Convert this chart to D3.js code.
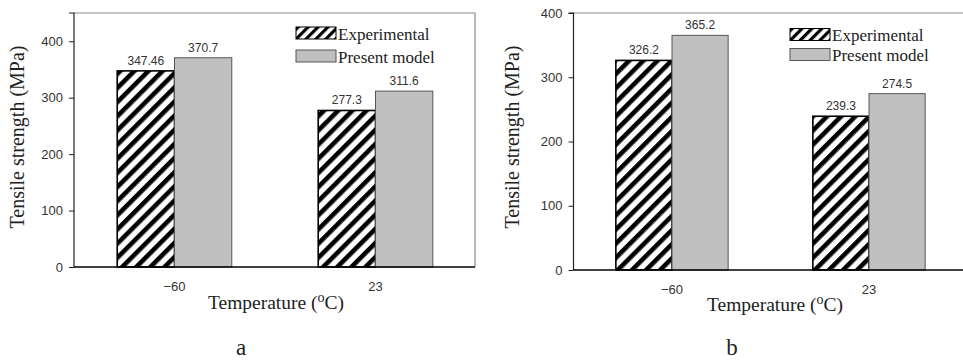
<!DOCTYPE html>
<html>
<head>
<meta charset="utf-8">
<script src="https://cdn.jsdelivr.net/npm/d3@7"></script>
<style>
  body { margin: 0; background: #fff; }
  svg { display: block; }
  .serif { font-family: "Liberation Serif", "Times New Roman", Times, "DejaVu Serif", serif; }
  .sans { font-family: "Liberation Sans", Arial, sans-serif; }
</style>
</head>
<body>
<svg id="chart" width="963" height="361"></svg>
<script>
// data
const categories = ["\u221260", "23"];
const seriesNames = ["Experimental", "Present model"];
const expA = [347.46, 277.3];
const modelA = [370.7, 311.6];
const expB = [326.2, 239.3];
const modelB = [365.2, 274.5];
const yTicks = [0, 100, 200, 300, 400];
const panelLabels = ["a", "b"];

const svg = d3.select("#chart");
const defs = svg.append("defs");

function hatch(id, size, stripe) {
    const p = defs.append("pattern")
        .attr("id", id)
        .attr("patternUnits", "userSpaceOnUse")
        .attr("width", size).attr("height", size)
        .attr("patternTransform", "rotate(45)");
    p.append("rect").attr("width", size).attr("height", size).attr("fill", "#fff");
    p.append("rect").attr("width", stripe).attr("height", size).attr("fill", "#000");
}
hatch("hatchBar", 10, 4.6);
hatch("hatchKey", 7, 3.2);

function drawPanel(p) {
    const g = svg.append("g");
    const x = d3.scaleBand().domain(categories)
        .range(p.band).paddingInner(0.43).paddingOuter(0.215);
    const xs = d3.scaleBand().domain(seriesNames).range([0, x.bandwidth()]);
    const y = d3.scaleLinear().domain([0, p.yMax]).range([p.bottom, p.top]);

    // frame (top + right)
    g.append("path")
        .attr("d", `M${p.left},${p.top}H${p.right}V${p.bottom}`)
        .attr("fill", "none").attr("stroke", "#8a8a8a").attr("stroke-width", 1.2);

    const rows = categories.map((c, i) => ({ c, vals: [p.exp[i], p.model[i]] }));
    const grp = g.selectAll(".grp").data(rows).enter().append("g")
        .attr("transform", d => `translate(${x(d.c)},0)`);

    grp.selectAll("rect")
        .data(d => d.vals.map((v, k) => ({ v, s: seriesNames[k], k })))
        .enter().append("rect")
        .attr("x", d => xs(d.s))
        .attr("y", d => y(d.v))
        .attr("width", xs.bandwidth())
        .attr("height", d => p.bottom - y(d.v))
        .attr("fill", d => d.k === 0 ? "url(#hatchBar)" : "#c0c0c0")
        .attr("stroke", d => d.k === 0 ? "#000" : "#555")
        .attr("stroke-width", d => d.k === 0 ? 1.6 : 1);

    grp.selectAll("text.val")
        .data(d => d.vals.map((v, k) => ({ v, s: seriesNames[k] })))
        .enter().append("text")
        .attr("class", "val sans")
        .attr("x", d => xs(d.s) + xs.bandwidth() / 2)
        .attr("y", d => y(d.v) - 6)
        .attr("text-anchor", "middle")
        .attr("font-size", 12).attr("fill", "#333")
        .text(d => String(d.v));

    // y axis
    const ya = g.append("g")
        .attr("transform", `translate(${p.left},0)`)
        .call(d3.axisLeft(y).tickValues(yTicks).tickSize(5).tickPadding(6).tickFormat(d3.format("d")));
    ya.attr("font-family", null).attr("font-size", null);
    ya.select(".domain").attr("stroke", "#222").attr("stroke-width", 1.2)
        .attr("d", `M-5,${p.top}H0V${p.bottom}`);
    ya.selectAll(".tick line").attr("stroke", "#222");
    ya.selectAll(".tick text").attr("class", "sans").attr("font-size", 13).attr("fill", "#333");

    // x axis (baseline only, no ticks)
    g.append("line")
        .attr("x1", p.left).attr("x2", p.right)
        .attr("y1", p.bottom).attr("y2", p.bottom)
        .attr("stroke", "#000").attr("stroke-width", 1.4);

    g.selectAll(".xl").data(categories).enter().append("text")
        .attr("class", "sans")
        .attr("x", d => x(d) + x.bandwidth() / 2)
        .attr("y", p.bottom + 24)
        .attr("text-anchor", "middle")
        .attr("font-size", 13).attr("fill", "#333")
        .text(d => d);

    // axis titles
    const xt = g.append("text")
        .attr("class", "serif")
        .attr("x", p.xTitle[0]).attr("y", p.xTitle[1])
        .attr("text-anchor", "middle")
        .attr("font-size", 19.5).attr("fill", "#222");
    xt.append("tspan").text("Temperature (");
    xt.append("tspan").attr("baseline-shift", "super").attr("font-size", 14).text("o");
    xt.append("tspan").text("C)");

    g.append("text")
        .attr("class", "serif")
        .attr("transform", `translate(${p.yTitle[0]},${p.yTitle[1]}) rotate(-90)`)
        .attr("text-anchor", "middle").attr("dy", "0.35em")
        .attr("font-size", 20).attr("fill", "#222")
        .text("Tensile strength (MPa)");

    // legend
    const lg = g.selectAll(".lg").data(seriesNames).enter().append("g")
        .attr("transform", (d, i) => `translate(${p.legend[0]},${p.legend[1] + i * p.legend[2]})`);
    lg.append("rect")
        .attr("width", 40).attr("height", 12)
        .attr("fill", (d, i) => i === 0 ? "url(#hatchKey)" : "#c0c0c0")
        .attr("stroke", (d, i) => i === 0 ? "#000" : "#555")
        .attr("stroke-width", 1);
    lg.append("text")
        .attr("class", "serif")
        .attr("x", 42).attr("y", 12.5)
        .attr("font-size", 17).attr("fill", "#222")
        .text(d => d);

    g.append("text")
        .attr("class", "serif")
        .attr("x", p.label[0]).attr("y", p.label[1])
        .attr("text-anchor", "middle")
        .attr("font-size", 23).attr("fill", "#222")
        .text(p.name);
}

drawPanel({
    name: panelLabels[0], exp: expA, model: modelA, yMax: 450,
    left: 74, right: 475, top: 13, bottom: 267, band: [74, 476],
    xTitle: [276, 309], yTitle: [17, 137], legend: [296, 27, 23], label: [241, 355]
});
drawPanel({
    name: panelLabels[1], exp: expB, model: modelB, yMax: 400,
    left: 573.5, right: 975, top: 13, bottom: 270, band: [573.5, 967.5],
    xTitle: [775, 311], yTitle: [512, 137], legend: [790, 28.5, 20], label: [732, 355]
});
</script>
</body>
</html>
